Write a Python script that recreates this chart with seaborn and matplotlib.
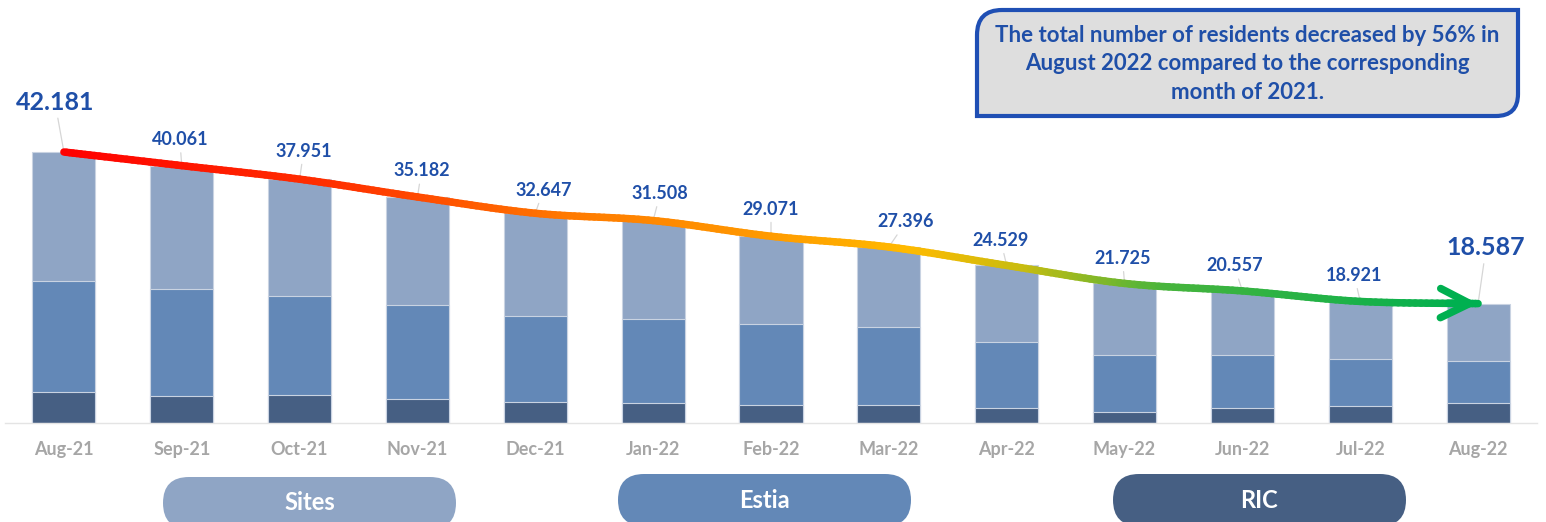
import numpy as np
import pandas as pd
import matplotlib
matplotlib.use('Agg')
import matplotlib.pyplot as plt
import seaborn as sns
from matplotlib.collections import LineCollection
from matplotlib.colors import LinearSegmentedColormap
from matplotlib.patches import FancyBboxPatch, PathPatch
from matplotlib.path import Path

# Data (residents per accommodation type)
months = ['Aug-21', 'Sep-21', 'Oct-21', 'Nov-21', 'Dec-21', 'Jan-22', 'Feb-22',
          'Mar-22', 'Apr-22', 'May-22', 'Jun-22', 'Jul-22', 'Aug-22']
totals = [42181, 40061, 37951, 35182, 32647, 31508, 29071, 27396, 24529, 21725, 20557, 18921, 18587]
ric = [4824, 4201, 4357, 3734, 3268, 3112, 2801, 2801, 2334, 1712, 2334, 2645, 3112]
estia = [17272, 16649, 15404, 14626, 13382, 13070, 12604, 12137, 10270, 8869, 8247, 7316, 6535]
sites = [t - r - e for t, r, e in zip(totals, ric, estia)]
series = ['Sites', 'Estia', 'RIC']
colors = {'Sites': '#8FA5C5', 'Estia': '#6388B7', 'RIC': '#465F83'}
note = ('The total number of residents decreased by 56% in\n'
        'August 2022 compared to the corresponding\n'
        'month of 2021.')

# label offsets from the line points, in pixels (dx, up)
label_off = [(-9, 50), (-2, 26), (4, 28), (4, 26), (8, 23), (7, 27), (0, 27),
             (17, 25), (-6, 25), (-2, 25), (-8, 25), (-6, 26), (8, 56)]

sns.set_style('white')
plt.rcParams['font.family'] = ['Lato', 'DejaVu Sans']

W, H = 1546, 522
fig = plt.figure(figsize=(W / 100, H / 100), dpi=100)
ax = fig.add_axes([5 / W, 99 / H, 1532 / W, 423 / H])

df = pd.DataFrame({'month': months, 'Sites': sites, 'Estia': estia, 'RIC': ric})
df['cum_sites'] = df['Sites'] + df['Estia'] + df['RIC']
df['cum_estia'] = df['Estia'] + df['RIC']
df['cum_ric'] = df['RIC']

# stacked bars by layering cumulative sums
for col, name in [('cum_sites', 'Sites'), ('cum_estia', 'Estia'), ('cum_ric', 'RIC')]:
    sns.barplot(data=df, x='month', y=col, order=months, color=colors[name], saturation=1,
                width=0.535, edgecolor='#C9D3E2', linewidth=0.8, ax=ax)

ax.set_xlim(-0.5, 12.5)
ax.set_ylim(0, 65840)
ax.set_xlabel('')
ax.set_ylabel('')
ax.set_yticks([])
for s in ['top', 'right', 'left']:
    ax.spines[s].set_visible(False)
ax.spines['bottom'].set_color('#E4E4E4')
ax.spines['bottom'].set_linewidth(1.0)
ax.set_xticks(range(len(months)))
ax.set_xticklabels(months, fontsize=13, fontweight='bold', color='#A6A6A6')
ax.set_xticks(np.arange(-0.5, len(months), 1), minor=True)
ax.tick_params(axis='x', which='major', length=0, pad=13)
ax.tick_params(axis='x', which='minor', length=5, color='#E4E4E4', width=1)

# smoothed gradient line through the totals
xs = np.arange(len(totals), dtype=float)
ys = np.array(totals, dtype=float)
cx, cy = [], []
n = len(xs)
for i in range(n - 1):
    i0, i3 = max(i - 1, 0), min(i + 2, n - 1)
    p0, p1, p2, p3 = [np.array([xs[k], ys[k]]) for k in (i0, i, i + 1, i3)]
    for t in np.linspace(0, 1, 24, endpoint=False):
        pt = 0.5 * ((2 * p1) + (-p0 + p2) * t + (2 * p0 - 5 * p1 + 4 * p2 - p3) * t ** 2
                    + (-p0 + 3 * p1 - 3 * p2 + p3) * t ** 3)
        cx.append(pt[0])
        cy.append(pt[1])
cx.append(xs[-1])
cy.append(ys[-1])
pts = np.column_stack([cx, cy]).reshape(-1, 1, 2)
segs = np.concatenate([pts[:-1], pts[1:]], axis=1)
cmap = LinearSegmentedColormap.from_list('grad', [
    (0.0, '#FF0000'), (0.2, '#FF3300'), (0.36, '#FF7A00'), (0.5, '#FF9A00'),
    (0.6, '#FFBA00'), (0.68, '#C8BC10'), (0.78, '#48B43C'), (1.0, '#00B050')])
mid = (np.array(cx[:-1]) + np.array(cx[1:])) / 2 / (n - 1)
lc = LineCollection(segs, colors=cmap(mid), linewidths=5.4, capstyle='round', zorder=4)
ax.add_collection(lc)
ax.annotate('', xy=(xs[-1], ys[-1]), xytext=(xs[-1] - 0.25, ys[-1] + 60),
            arrowprops=dict(arrowstyle='->,head_length=21,head_width=10.5', mutation_scale=1,
                            lw=5.4, color='#00B050', shrinkA=0, shrinkB=0,
                            capstyle='round', joinstyle='round'), zorder=5)

# value labels with leader lines
for i, (v, (dx, dy)) in enumerate(zip(totals, label_off)):
    big = i in (0, len(totals) - 1)
    ax.annotate(f'{v:,}'.replace(',', '.'), xy=(i, v), xytext=(dx * 0.72, dy * 0.72),
                textcoords='offset points', ha='center', va='center',
                fontsize=18 if big else 13, fontweight='bold', color='#1F4FA8',
                arrowprops=dict(arrowstyle='-', color='#D6D6D6', lw=0.9, shrinkA=1, shrinkB=0),
                zorder=3)

# overlay in pixel coordinates for note box and legend pills
ov = fig.add_axes([0, 0, 1, 1], zorder=10)
ov.set_xlim(0, W)
ov.set_ylim(H, 0)
ov.axis('off')
ov.patch.set_alpha(0)

x0, x1, y0, y1, r1, r2 = 977, 1518, 10, 116, 25, 22
verts = [(x0 + r1, y0), (x1, y0), (x1, y1 - r2), (x1, y1), (x1 - r2, y1), (x0, y1),
         (x0, y0 + r1), (x0, y0), (x0 + r1, y0), (x0 + r1, y0)]
codes = [Path.MOVETO, Path.LINETO, Path.LINETO, Path.CURVE3, Path.CURVE3, Path.LINETO,
         Path.LINETO, Path.CURVE3, Path.CURVE3, Path.CLOSEPOLY]
ov.add_patch(PathPatch(Path(verts, codes), facecolor='#DEDEDE', edgecolor='#1F4FB4', lw=3))
ov.text((x0 + x1) / 2, (y0 + y1) / 2 + 1, note, ha='center', va='center', fontsize=16,
        fontweight='bold', color='#1F4FA8', linespacing=1.42)

pill_pos = {'Sites': (163, 477), 'Estia': (618, 474), 'RIC': (1113, 474)}
pw, ph = 293, 52
for name in series:
    px, py = pill_pos[name]
    ov.add_patch(FancyBboxPatch((px, py), pw, ph, boxstyle=f'round,pad=0,rounding_size={ph / 2}',
                                facecolor=colors[name], edgecolor='none'))
    ov.text(px + pw / 2, py + ph / 2, name, ha='center', va='center', fontsize=17,
            fontweight='bold', color='white')

fig.savefig('out.png', dpi=100)
